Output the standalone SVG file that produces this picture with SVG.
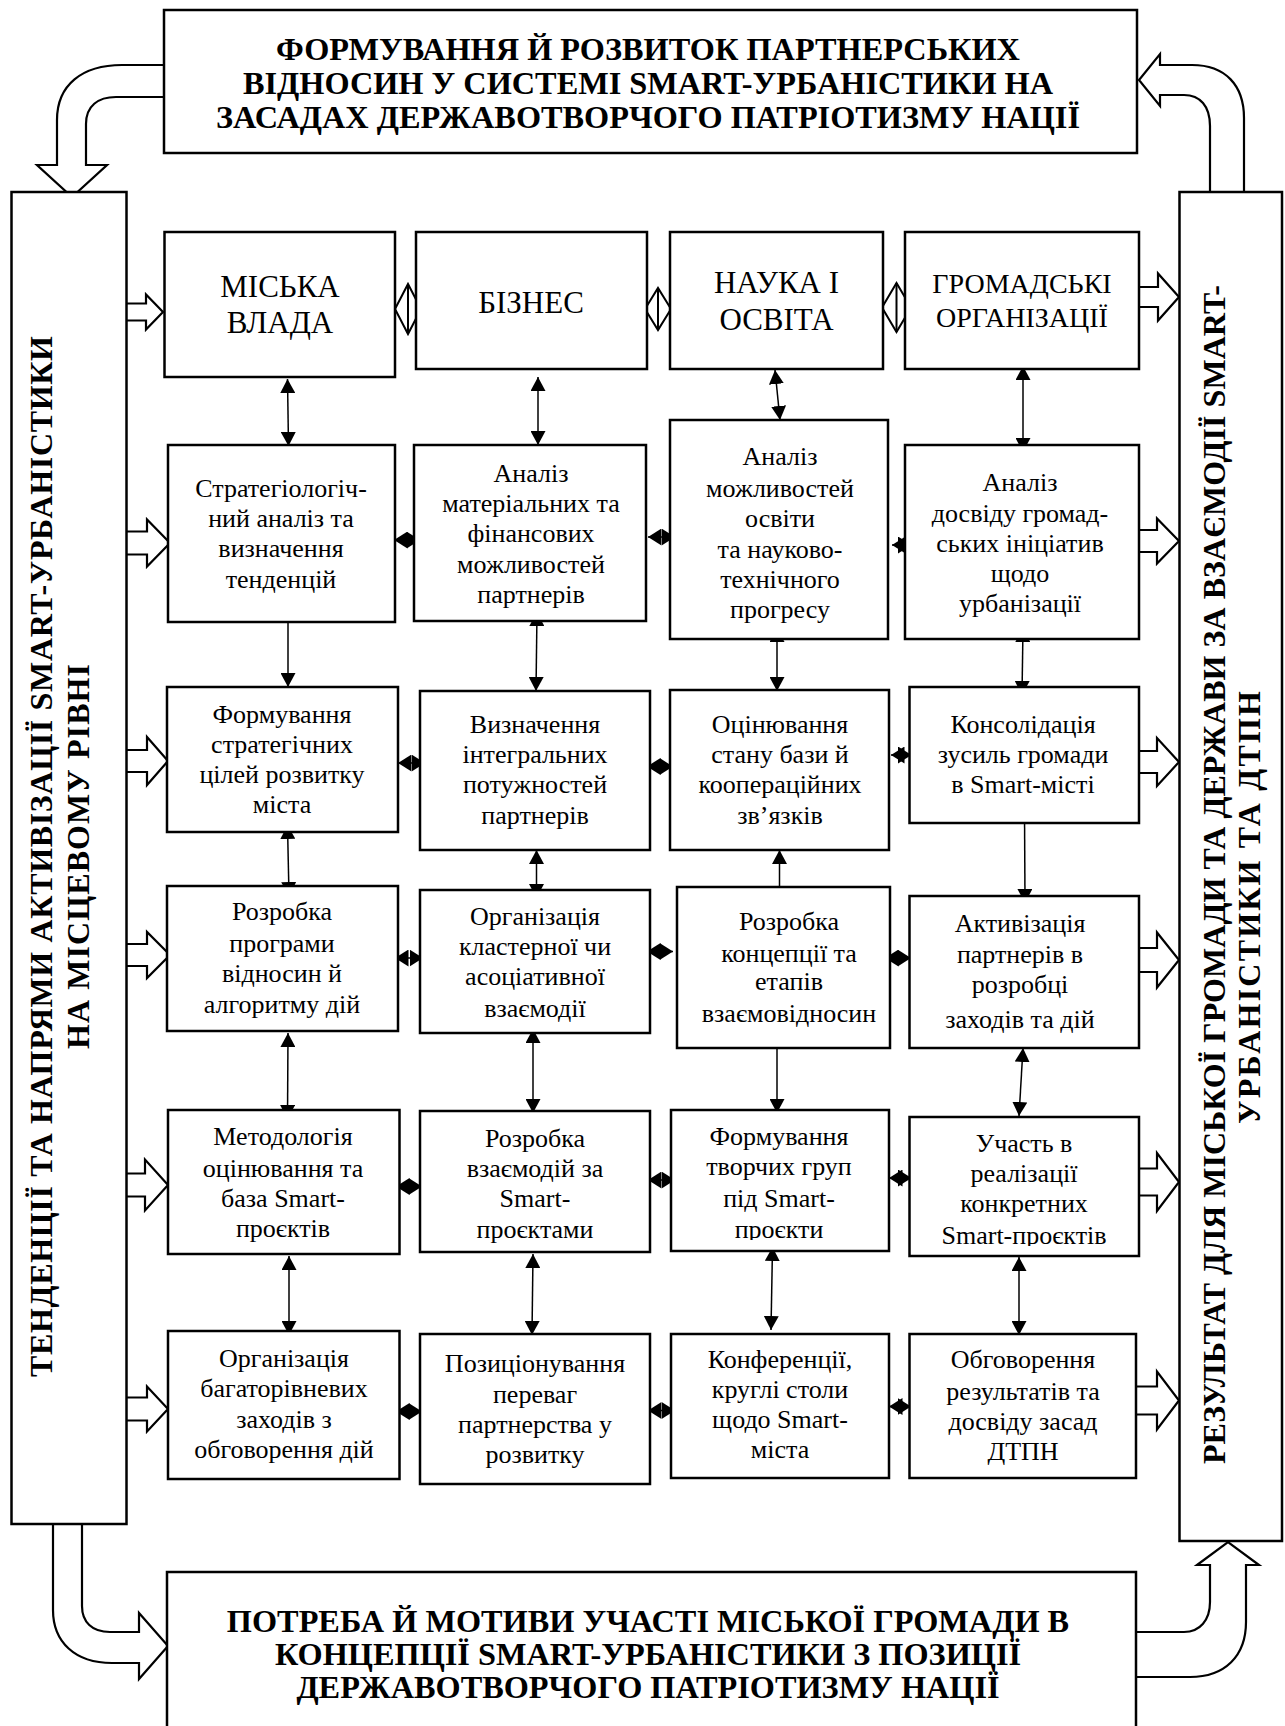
<svg xmlns="http://www.w3.org/2000/svg" width="1285" height="1726" viewBox="0 0 1285 1726">
<style>
.box{fill:#fff;stroke:#000;stroke-width:2.5}
.t{font-family:"Liberation Serif","Times New Roman",serif;font-size:26px;fill:#000;text-anchor:middle}
.t1{font-family:"Liberation Serif","Times New Roman",serif;font-size:31px;fill:#000;text-anchor:middle}
.tb{font-family:"Liberation Serif","Times New Roman",serif;font-weight:bold;font-size:32.3px;fill:#000;text-anchor:middle}
.tv{font-family:"Liberation Serif","Times New Roman",serif;font-weight:bold;font-size:32px;fill:#000;text-anchor:middle}
.ln{stroke:#000;stroke-width:1.5;fill:none;marker-start:url(#ah);marker-end:url(#ah)}
.hc{stroke:#000;stroke-width:1.5;fill:none;marker-start:url(#ahh);marker-end:url(#ahh)}
.ba{fill:#fff;stroke:#000;stroke-width:2.2;stroke-linejoin:miter}
.hd{fill:#fff;stroke:#000;stroke-width:2}
</style>
<defs>
<marker id="ah" viewBox="0 0 14 15" refX="14" refY="7.5" markerWidth="14" markerHeight="15" markerUnits="userSpaceOnUse" orient="auto-start-reverse"><path d="M0,0 L14,7.5 L0,15 Z" fill="#000"/></marker>
<marker id="ahh" viewBox="0 0 13.5 17" refX="13.5" refY="8.5" markerWidth="13.5" markerHeight="17" markerUnits="userSpaceOnUse" orient="auto-start-reverse"><path d="M0,0 L13.5,8.5 L0,17 Z" fill="#000"/></marker>
<clipPath id="cl53"><rect x="671" y="1110" width="218" height="130"/></clipPath>
<clipPath id="cl54"><rect x="909" y="1117" width="230" height="129"/></clipPath>
</defs>

<g id="connectors">
<path class="ba" d="M164,65 L122,65 C82,65 57,85 57,120 L57,165 L37,165 L72,197 L107,165 L86,165 L86,124 C86,106 98,97 116,97 L164,97"/>
<path class="ba" d="M1210,191 L1210,126 C1210,106 1200,95 1184,95 L1160,95 L1160,106 L1139,80 L1160,54 L1160,65 L1192,65 C1225,65 1244,85 1244,118 L1244,191"/>
<path class="ba" d="M82,1524 L82,1606 C82,1622 92,1632 110,1632 L139,1632 L139,1613 L168,1646 L139,1679 L139,1663 L112,1663 C75,1663 53,1642 53,1610 L53,1524"/>
<path class="ba" d="M1136,1632 L1184,1632 C1200,1632 1210,1620 1210,1602 L1210,1565 L1197,1565 L1228,1542 L1259,1565 L1246,1565 L1246,1622 C1246,1656 1225,1677 1190,1677 L1136,1677"/>
<path class="ba" d="M126.5,303.5 L146,303.5 L146,294.5 L163,312 L146,329.5 L146,320.5 L126.5,320.5"/>
<path class="ba" d="M126.5,531.5 L147,531.5 L147,519.5 L170,543 L147,566.5 L147,554.5 L126.5,554.5"/>
<path class="ba" d="M126.5,750 L147,750 L147,737 L168,761 L147,785 L147,772 L126.5,772"/>
<path class="ba" d="M126.5,944 L147,944 L147,932 L170,955 L147,978 L147,966 L126.5,966"/>
<path class="ba" d="M126.5,1173.5 L145,1173.5 L145,1159.5 L168,1185 L145,1210.5 L145,1196.5 L126.5,1196.5"/>
<path class="ba" d="M126.5,1397.5 L147,1397.5 L147,1386.5 L168,1409 L147,1431.5 L147,1420.5 L126.5,1420.5"/>
<path class="ba" d="M1139,287 L1158,287 L1158,273.5 L1179,297 L1158,320.5 L1158,307 L1139,307"/>
<path class="ba" d="M1139,530 L1157,530 L1157,518.5 L1179,541 L1157,563.5 L1157,552 L1139,552"/>
<path class="ba" d="M1139,751 L1157,751 L1157,738 L1179,762 L1157,786 L1157,773 L1139,773"/>
<path class="ba" d="M1139,948 L1157,948 L1157,932.5 L1179,960 L1157,987.5 L1157,972 L1139,972"/>
<path class="ba" d="M1139,1168.5 L1157,1168.5 L1157,1153 L1179,1182 L1157,1211 L1157,1195.5 L1139,1195.5"/>
<path class="ba" d="M1136,1386.5 L1157,1386.5 L1157,1371.5 L1179,1400.5 L1157,1429.5 L1157,1414.5 L1136,1414.5"/>
<polygon class="hd" points="395,309 408,284 421,309 408,334"/><line x1="408" y1="284" x2="408" y2="334" stroke="#000" stroke-width="2"/>
<polygon class="hd" points="645,309 658,288 671,309 658,330"/><line x1="658" y1="288" x2="658" y2="330" stroke="#000" stroke-width="2"/>
<polygon class="hd" points="882,307.5 896.5,283 911,307.5 896.5,332"/><line x1="896.5" y1="283" x2="896.5" y2="332" stroke="#000" stroke-width="2"/>
<line class="ln" x1="287.5" y1="379" x2="288.5" y2="446"/>
<line class="ln" x1="538" y1="377" x2="538" y2="445"/>
<line class="ln" x1="775" y1="370" x2="780" y2="420"/>
<line class="ln" x1="1023" y1="366" x2="1023" y2="452"/>
<line class="ln" x1="288" y1="607" x2="288" y2="687"/>
<line class="ln" x1="537" y1="612" x2="536" y2="691"/>
<line class="ln" x1="777" y1="628" x2="777" y2="691"/>
<line class="ln" x1="1023" y1="628" x2="1022" y2="695"/>
<line class="ln" x1="287.5" y1="825" x2="289" y2="896"/>
<line class="ln" x1="536.5" y1="850" x2="536.5" y2="898"/>
<line class="ln" x1="779.5" y1="850" x2="779.5" y2="902"/>
<line class="ln" x1="1024.5" y1="810" x2="1025" y2="903"/>
<line class="ln" x1="288" y1="1033" x2="287.5" y2="1119"/>
<line class="ln" x1="533" y1="1029" x2="533" y2="1113"/>
<line class="ln" x1="777" y1="1032" x2="777" y2="1113"/>
<line class="ln" x1="1023" y1="1048" x2="1019" y2="1116"/>
<line class="ln" x1="289" y1="1256" x2="289" y2="1335"/>
<line class="ln" x1="533" y1="1254" x2="532" y2="1335"/>
<line class="ln" x1="772.5" y1="1247" x2="771" y2="1330"/>
<line class="ln" x1="1019" y1="1257" x2="1019" y2="1335"/>
<line class="hc" x1="394" y1="540" x2="420" y2="540"/>
<line class="hc" x1="648" y1="537" x2="675" y2="537"/>
<line class="hc" x1="892" y1="545" x2="911.5" y2="545"/>
<line class="hc" x1="398" y1="763" x2="425" y2="763"/>
<line class="hc" x1="647" y1="766.5" x2="673" y2="766.5"/>
<line class="hc" x1="891" y1="755" x2="911.5" y2="755"/>
<line class="hc" x1="395" y1="958" x2="423" y2="958"/>
<line class="hc" x1="647" y1="951.5" x2="673" y2="951.5"/>
<line class="hc" x1="885" y1="958" x2="911" y2="958"/>
<line class="hc" x1="396" y1="1186.5" x2="422" y2="1186.5"/>
<line class="hc" x1="648" y1="1180" x2="675" y2="1180"/>
<line class="hc" x1="889" y1="1178" x2="911.5" y2="1178"/>
<line class="hc" x1="396" y1="1411.5" x2="422" y2="1411.5"/>
<line class="hc" x1="648" y1="1410.5" x2="675" y2="1410.5"/>
<line class="hc" x1="889" y1="1406.5" x2="911" y2="1406.5"/>
</g>

<g id="top">
<rect class="box" x="164" y="10" width="973" height="143"/>
<text class="tb"><tspan x="648" y="60">ФОРМУВАННЯ Й РОЗВИТОК ПАРТНЕРСЬКИХ</tspan><tspan x="648" y="94">ВІДНОСИН У СИСТЕМІ SMART-УРБАНІСТИКИ НА</tspan><tspan x="648" y="128">ЗАСАДАХ ДЕРЖАВОТВОРЧОГО ПАТРІОТИЗМУ НАЦІЇ</tspan></text>
</g>
<g id="bottom">
<rect class="box" x="167" y="1572" width="969" height="170"/>
<text class="tb"><tspan x="648" y="1632">ПОТРЕБА Й МОТИВИ УЧАСТІ МІСЬКОЇ ГРОМАДИ В</tspan><tspan x="648" y="1665">КОНЦЕПЦІЇ SMART-УРБАНІСТИКИ З ПОЗИЦІЇ</tspan><tspan x="648" y="1698">ДЕРЖАВОТВОРЧОГО ПАТРІОТИЗМУ НАЦІЇ</tspan></text>
</g>
<g id="left">
<rect class="box" x="11.5" y="192" width="115" height="1332"/>
<text class="tv" transform="translate(52,856.5) rotate(-90)" textLength="1041">ТЕНДЕНЦІЇ  ТА  НАПРЯМИ  АКТИВІЗАЦІЇ  SMART-УРБАНІСТИКИ</text>
<text class="tv" transform="translate(89,856.5) rotate(-90)" textLength="385">НА  МІСЦЕВОМУ  РІВНІ</text>
</g>
<g id="right">
<rect class="box" x="1179.5" y="192" width="102.5" height="1349"/>
<text class="tv" transform="translate(1225,874.5) rotate(-90)" textLength="1179">РЕЗУЛЬТАТ  ДЛЯ  МІСЬКОЇ  ГРОМАДИ  ТА  ДЕРЖАВИ  ЗА  ВЗАЄМОДІЇ  SMART-</text>
<text class="tv" transform="translate(1260,907.5) rotate(-90)" textLength="433">УРБАНІСТИКИ  ТА  ДТПН</text>
</g>

<g id="r1c1"><rect class="box" x="164.5" y="232" width="230.5" height="145"/><text class="t1"><tspan x="280" y="297">МІСЬКА</tspan><tspan x="280" y="333">ВЛАДА</tspan></text></g>
<g id="r1c2"><rect class="box" x="416" y="232" width="231" height="137"/><text class="t1"><tspan x="531" y="313">БІЗНЕС</tspan></text></g>
<g id="r1c3"><rect class="box" x="670" y="232" width="213" height="137"/><text class="t1"><tspan x="776.5" y="293">НАУКА І</tspan><tspan x="776.5" y="330">ОСВІТА</tspan></text></g>
<g id="r1c4"><rect class="box" x="905" y="232" width="234" height="137"/><text class="t1" style="font-size:28px"><tspan x="1022" y="293">ГРОМАДСЬКІ</tspan><tspan x="1022" y="327">ОРГАНІЗАЦІЇ</tspan></text></g>

<g id="r2c1"><rect class="box" x="168" y="445" width="227" height="177"/><text class="t"><tspan x="281" y="497">Стратегіологіч-</tspan><tspan x="281" y="527">ний аналіз та</tspan><tspan x="281" y="557">визначення</tspan><tspan x="281" y="588">тенденцій</tspan></text></g>
<g id="r2c2"><rect class="box" x="414" y="445" width="232" height="176"/><text class="t"><tspan x="531" y="482">Аналіз</tspan><tspan x="531" y="512">матеріальних та</tspan><tspan x="531" y="542">фінансових</tspan><tspan x="531" y="573">можливостей</tspan><tspan x="531" y="603">партнерів</tspan></text></g>
<g id="r2c3"><rect class="box" x="670" y="420" width="218" height="219"/><text class="t"><tspan x="780" y="465">Аналіз</tspan><tspan x="780" y="497">можливостей</tspan><tspan x="780" y="527">освіти</tspan><tspan x="780" y="558">та науково-</tspan><tspan x="780" y="588">технічного</tspan><tspan x="780" y="618">прогресу</tspan></text></g>
<g id="r2c4"><rect class="box" x="905" y="445" width="234" height="194"/><text class="t"><tspan x="1020" y="491">Аналіз</tspan><tspan x="1020" y="522">досвіду  громад-</tspan><tspan x="1020" y="552">ських ініціатив</tspan><tspan x="1020" y="582">щодо</tspan><tspan x="1020" y="612">урбанізації</tspan></text></g>

<g id="r3c1"><rect class="box" x="167" y="687" width="231" height="145"/><text class="t"><tspan x="282" y="723">Формування</tspan><tspan x="282" y="753">стратегічних</tspan><tspan x="282" y="783">цілей розвитку</tspan><tspan x="282" y="813">міста</tspan></text></g>
<g id="r3c2"><rect class="box" x="420" y="691" width="230" height="159"/><text class="t"><tspan x="535" y="733">Визначення</tspan><tspan x="535" y="763">інтегральних</tspan><tspan x="535" y="793">потужностей</tspan><tspan x="535" y="824">партнерів</tspan></text></g>
<g id="r3c3"><rect class="box" x="670" y="690" width="219" height="160"/><text class="t"><tspan x="780" y="733">Оцінювання</tspan><tspan x="780" y="763">стану бази й</tspan><tspan x="780" y="793">коопераційних</tspan><tspan x="780" y="824">зв’язків</tspan></text></g>
<g id="r3c4"><rect class="box" x="909.5" y="687" width="229.5" height="136"/><text class="t"><tspan x="1023" y="733">Консолідація</tspan><tspan x="1023" y="763">зусиль громади</tspan><tspan x="1023" y="793">в Smart-місті</tspan></text></g>

<g id="r4c1"><rect class="box" x="167" y="886" width="231" height="145"/><text class="t"><tspan x="282" y="920">Розробка</tspan><tspan x="282" y="952">програми</tspan><tspan x="282" y="982">відносин й</tspan><tspan x="282" y="1013">алгоритму дій</tspan></text></g>
<g id="r4c2"><rect class="box" x="420" y="890" width="230" height="143"/><text class="t"><tspan x="535" y="925">Організація</tspan><tspan x="535" y="955">кластерної чи</tspan><tspan x="535" y="985">асоціативної</tspan><tspan x="535" y="1017">взаємодії</tspan></text></g>
<g id="r4c3"><rect class="box" x="677" y="887" width="213" height="161"/><text class="t"><tspan x="789" y="930">Розробка</tspan><tspan x="789" y="962">концепції та</tspan><tspan x="789" y="990">етапів</tspan><tspan x="789" y="1022">взаємовідносин</tspan></text></g>
<g id="r4c4"><rect class="box" x="909.5" y="896" width="229.5" height="152"/><text class="t"><tspan x="1020" y="932">Активізація</tspan><tspan x="1020" y="963">партнерів  в</tspan><tspan x="1020" y="993">розробці</tspan><tspan x="1020" y="1028">заходів та дій</tspan></text></g>

<g id="r5c1"><rect class="box" x="168" y="1110" width="231.5" height="144"/><text class="t"><tspan x="283" y="1145">Методологія</tspan><tspan x="283" y="1177">оцінювання та</tspan><tspan x="283" y="1207">база Smart-</tspan><tspan x="283" y="1237">проєктів</tspan></text></g>
<g id="r5c2"><rect class="box" x="420" y="1111" width="230" height="141"/><text class="t"><tspan x="535" y="1147">Розробка</tspan><tspan x="535" y="1177">взаємодій за</tspan><tspan x="535" y="1207">Smart-</tspan><tspan x="535" y="1238">проєктами</tspan></text></g>
<g id="r5c3"><rect class="box" x="671" y="1110" width="218" height="141"/><text class="t" clip-path="url(#cl53)"><tspan x="779" y="1145">Формування</tspan><tspan x="779" y="1175">творчих груп</tspan><tspan x="779" y="1207">під Smart-</tspan><tspan x="779" y="1238">проєкти</tspan></text></g>
<g id="r5c4"><rect class="box" x="909.5" y="1117" width="229.5" height="139"/><text class="t" clip-path="url(#cl54)"><tspan x="1024" y="1152">Участь в</tspan><tspan x="1024" y="1182">реалізації</tspan><tspan x="1024" y="1212">конкретних</tspan><tspan x="1024" y="1244">Smart-проєктів</tspan></text></g>

<g id="r6c1"><rect class="box" x="168" y="1331" width="231.5" height="148"/><text class="t"><tspan x="284" y="1367">Організація</tspan><tspan x="284" y="1397">багаторівневих</tspan><tspan x="284" y="1428">заходів з</tspan><tspan x="284" y="1458">обговорення дій</tspan></text></g>
<g id="r6c2"><rect class="box" x="420" y="1334" width="230" height="150"/><text class="t"><tspan x="535" y="1372">Позиціонування</tspan><tspan x="535" y="1403">переваг</tspan><tspan x="535" y="1433">партнерства у</tspan><tspan x="535" y="1463">розвитку</tspan></text></g>
<g id="r6c3"><rect class="box" x="671" y="1334" width="218" height="144"/><text class="t"><tspan x="780" y="1368">Конференції,</tspan><tspan x="780" y="1398">круглі столи</tspan><tspan x="780" y="1428">щодо Smart-</tspan><tspan x="780" y="1458">міста</tspan></text></g>
<g id="r6c4"><rect class="box" x="909.5" y="1334" width="226.5" height="144"/><text class="t"><tspan x="1023" y="1368">Обговорення</tspan><tspan x="1023" y="1400">результатів та</tspan><tspan x="1023" y="1430">досвіду засад</tspan><tspan x="1023" y="1460">ДТПН</tspan></text></g>
</svg>
